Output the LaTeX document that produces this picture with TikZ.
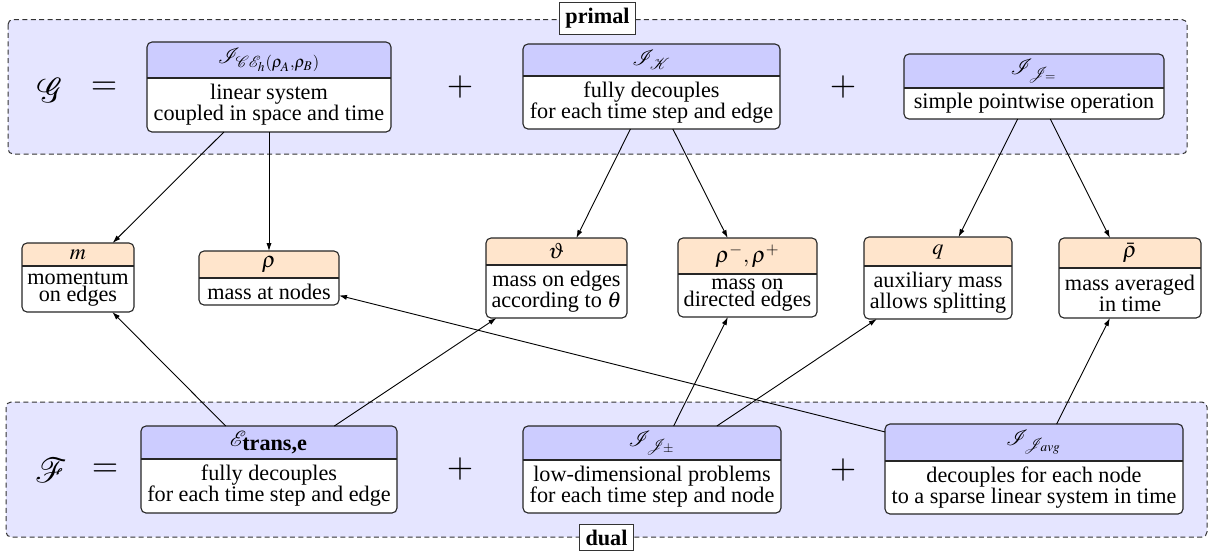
\documentclass[tikz,border=0pt]{standalone}
\usepackage{mathptmx}
\usepackage{calrsfs}
\usepackage[no-math]{fontspec}
\setmainfont{Liberation Serif}
\usetikzlibrary{arrows.meta,calc}

\definecolor{bgviolet}{HTML}{E5E5FF}
\definecolor{hdrblue}{HTML}{CCCCFF}
\definecolor{hdrpeach}{HTML}{FFE5CC}

\tikzset{
  boxshape/.style={rectangle, draw=none, inner sep=0pt, outer sep=0pt},
  hdrtext/.style={inner sep=0pt, font=\fontsize{11.1}{10.5}\selectfont},
  bodytext/.style={inner sep=0pt, align=center, font=\fontsize{11.1}{10.5}\selectfont},
  frame/.style={draw=black!85, line width=0.55pt, rounded corners=2.5pt},
  panel/.style={fill=bgviolet, draw=black!80, line width=0.5pt,
                dash pattern=on 2.5pt off 1.7pt, rounded corners=2.5pt},
  tag/.style={draw=black!80, fill=white, line width=0.5pt, inner sep=2.8pt,
              font=\fontsize{11.1}{12}\selectfont\bfseries},
  link/.style={-{Latex[length=4pt,width=2.6pt]}, line width=0.45pt},
  big/.style={font=\fontsize{17}{20}\selectfont, inner sep=0pt},
  upright/.style={xslant=-0.2, transform shape},
}

% #1 name, #2 x, #3 y, #4 width, #5 height, #6 header height (all in px),
% #7 header colour, #8 header text, #9 body text
\newcommand\splitbox[9]{%
  \node[boxshape, minimum width=#4*0.5pt, minimum height=#5*0.5pt] (#1) at (#2,#3) {};
  \begin{scope}
    \clip[rounded corners=2.5pt] (#1.south west) rectangle (#1.north east);
    \fill[white] (#1.south west) rectangle (#1.north east);
    \fill[#7] (#1.north west) rectangle ([yshift=-#6*0.5pt]#1.north east);
  \end{scope}
  \draw[line width=0.55pt, black!85] ([yshift=-#6*0.5pt]#1.north west) -- ([yshift=-#6*0.5pt]#1.north east);
  \draw[frame] (#1.south west) rectangle (#1.north east);
  \node[hdrtext] at ([yshift=-#6*0.25pt]#1.north) {#8};
  \node[bodytext] at ($([yshift=-#6*0.5pt]#1.north)!0.5!(#1.south)$) {#9};
}

\begin{document}
\begin{tikzpicture}[x=0.5pt, y=-0.5pt]
\useasboundingbox (0,0) rectangle (1222,554);

% primal and dual panels
\draw[panel] (8,19.5) rectangle (1187,154);
\draw[panel] (6,402) rectangle (1207,537);
\node[tag] (primal) at (597.5,18.5) {primal};
\node[tag] (dual) at (606.5,537.5) {dual};

% primal functional
\node[big, upright] (G) at (51,90) {$\mathcal{G}$};
\node[big] (eqG) at (104,88) {$=$};
\node[big] (plusGa) at (460,87) {$+$};
\node[big] (plusGb) at (843,87) {$+$};
\splitbox{A}{269}{87}{244}{90}{36}{hdrblue}{$\mathcal{I}_{\mathcal{C}\mathcal{E}_h(\rho_A,\rho_B)}$}{linear system\\coupled in space and time}
\splitbox{B}{651.5}{86.5}{257}{85}{32}{hdrblue}{$\mathcal{I}_{\mathcal{K}}$}{fully decouples\\for each time step and edge}
\splitbox{C}{1034}{86.5}{260}{65}{34}{hdrblue}{$\mathcal{I}_{\mathcal{J}_=}$}{simple pointwise operation}

% variables
\splitbox{m}{78}{277.5}{112}{69}{23}{hdrpeach}{$m$}{momentum\\[-2pt]on edges}
\splitbox{rho}{269}{278}{140}{54}{27}{hdrpeach}{$\rho$}{mass at nodes}
\splitbox{theta}{556.5}{278}{141}{80}{27}{hdrpeach}{$\vartheta$}{mass on edges\\according to $\theta$}
\splitbox{rhopm}{747.5}{277.5}{139}{79}{36}{hdrpeach}{$\rho^-, \rho^+$}{mass on\\[-2pt]directed edges}
\splitbox{q}{938}{278}{148}{82}{29}{hdrpeach}{$q$}{auxiliary mass\\allows splitting}
\splitbox{rhobar}{1130}{278}{142}{80}{30}{hdrpeach}{$\bar{\rho}$}{mass averaged\\in time}

% dual functional
\node[big, upright] (F) at (51,470) {$\mathcal{F}$};
\node[big] (eqF) at (105,470) {$=$};
\node[big] (plusFa) at (460,469) {$+$};
\node[big] (plusFb) at (843,470) {$+$};
\splitbox{E}{269}{469.5}{256}{87}{33}{hdrblue}{$\mathcal{E}_{\textbf{trans,e}}$}{fully decouples\\for each time step and edge}
\splitbox{Jpm}{652}{469.5}{258}{87}{34}{hdrblue}{$\mathcal{I}_{\mathcal{J}_\pm}$}{low-dimensional problems\\for each time step and node}
\splitbox{Javg}{1034}{469}{298}{90}{37}{hdrblue}{$\mathcal{I}_{\mathcal{J}_{avg}}$}{decouples for each node\\to a sparse linear system in time}

% dependencies
\draw[link] (A) -- (m);
\draw[link] (A) -- (rho);
\draw[link] (B) -- (theta);
\draw[link] (B) -- (rhopm);
\draw[link] (C) -- (q);
\draw[link] (C) -- (rhobar);
\draw[link] (E) -- (m);
\draw[link] (E) -- (theta);
\draw[link] (Jpm) -- (rhopm);
\draw[link] (Jpm) -- (q);
\draw[link] (Javg) -- (rho);
\draw[link] (Javg) -- (rhobar);
\end{tikzpicture}
\end{document}
